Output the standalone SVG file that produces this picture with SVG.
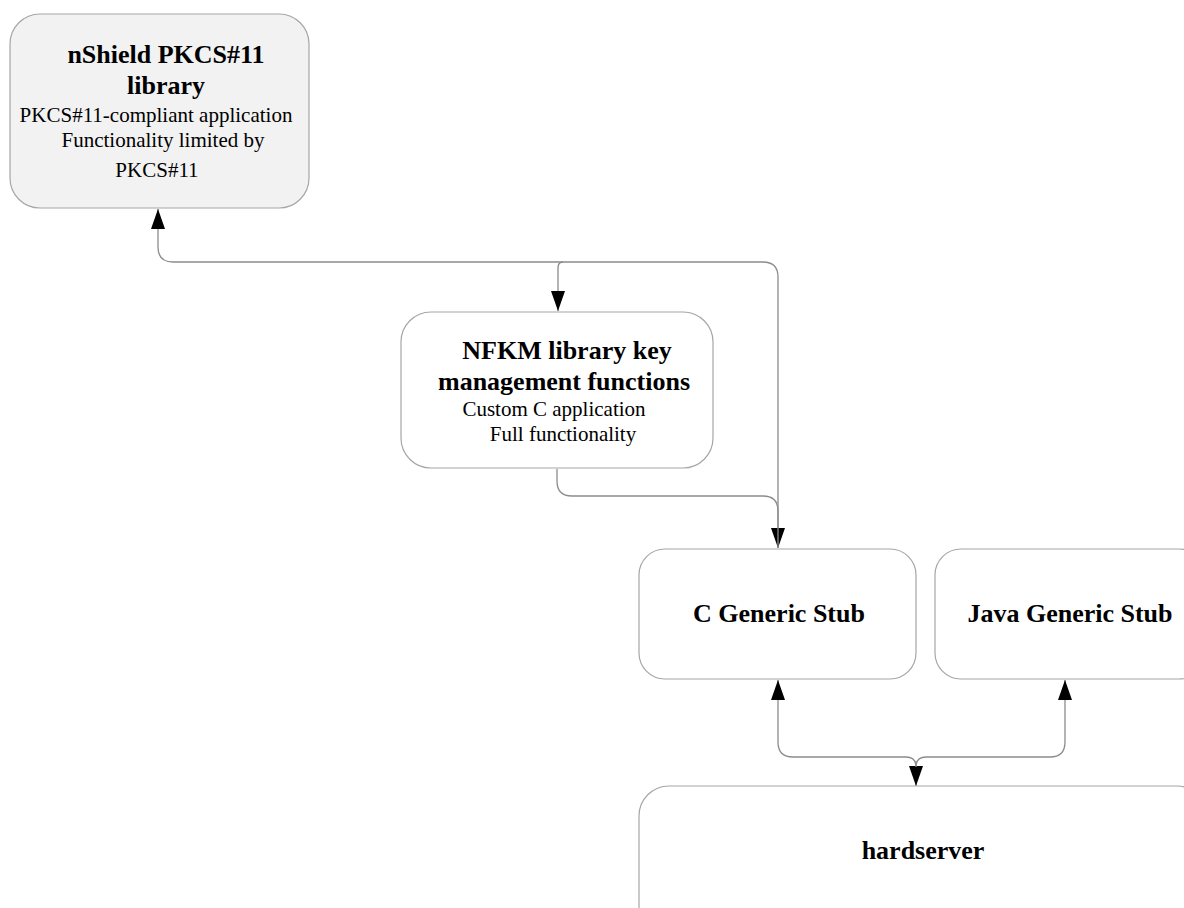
<svg xmlns="http://www.w3.org/2000/svg" width="1184" height="908" viewBox="0 0 1184 908">
<style>
.box{fill:#ffffff;stroke:#a6a6a6;stroke-width:1.2}
.grey{fill:#f2f2f2}
.t{font-family:"Liberation Serif","Times New Roman",serif;fill:#000;text-anchor:middle}
.b{font-weight:bold;font-size:26px}
.r{font-size:21px}
.c{fill:none;stroke:#8c8c8c;stroke-width:1.3}
</style>
<defs>
<marker id="ah" markerUnits="userSpaceOnUse" markerWidth="21" markerHeight="15" refX="20" refY="7" orient="auto-start-reverse" viewBox="0 0 21 15">
<path d="M0,0 L20,7 L0,14 z" fill="#000"/>
</marker>
</defs>
<g id="connectors">
<path class="c" d="M158,209 L158,247 Q158,262 173,262 L763,262 Q778,262 778,277 L778,548" marker-start="url(#ah)" marker-end="url(#ah)"/>
<path class="c" d="M563,262 Q558,262 558,268 L558,311" marker-end="url(#ah)"/>
<path class="c" d="M557,469 L557,481 Q557,496 572,496 L763,496 Q778,496 778,511 L778,548"/>
<path class="c" d="M778,680 L778,742 Q778,757 793,757 L906,757 Q916,757 916,767 L916,786" marker-start="url(#ah)" marker-end="url(#ah)"/>
<path class="c" d="M1065,680 L1065,742 Q1065,757 1050,757 L926,757 Q916,757 916,767" marker-start="url(#ah)"/>
</g>
<g id="node-pkcs11">
<rect class="box grey" x="10" y="14" width="299" height="194" rx="30" ry="30"/>
<text class="t b" x="166" y="63">nShield PKCS#11</text>
<text class="t b" x="166" y="94">library</text>
<text class="t r" x="156" y="122">PKCS#11-compliant application</text>
<text class="t r" x="163" y="147">Functionality limited by</text>
<text class="t r" x="157" y="177">PKCS#11</text>
</g>
<g id="node-nfkm">
<rect class="box" x="401" y="312" width="312" height="156" rx="30" ry="30"/>
<text class="t b" x="567" y="359">NFKM library key</text>
<text class="t b" x="564" y="390">management functions</text>
<text class="t r" x="554" y="416">Custom C application</text>
<text class="t r" x="563" y="441">Full functionality</text>
</g>
<g id="node-cstub">
<rect class="box" x="639" y="549" width="277" height="130" rx="26" ry="26"/>
<text class="t b" x="779" y="622">C Generic Stub</text>
</g>
<g id="node-javastub">
<rect class="box" x="935" y="549" width="270" height="130" rx="26" ry="26"/>
<text class="t b" x="1070" y="622">Java Generic Stub</text>
</g>
<g id="node-hardserver">
<rect class="box" x="639" y="786" width="568" height="150" rx="30" ry="30"/>
<text class="t b" x="923" y="859">hardserver</text>
</g>
</svg>
